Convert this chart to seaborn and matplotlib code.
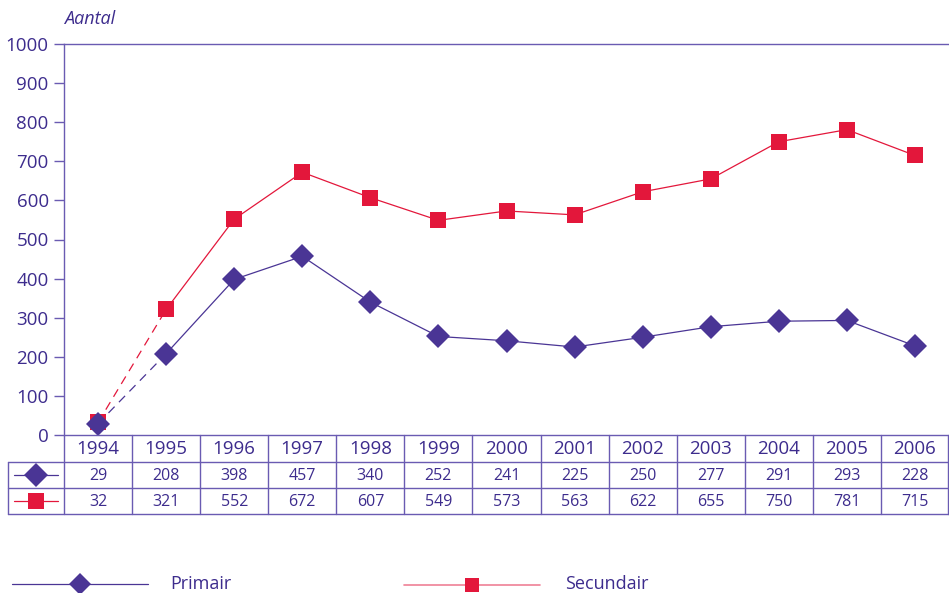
import matplotlib
matplotlib.use("Agg")
import matplotlib.pyplot as plt
import seaborn as sns
import pandas as pd
from matplotlib.lines import Line2D

years = ["1994", "1995", "1996", "1997", "1998", "1999", "2000", "2001",
         "2002", "2003", "2004", "2005", "2006"]
primair = [29, 208, 398, 457, 340, 252, 241, 225, 250, 277, 291, 293, 228]
secundair = [32, 321, 552, 672, 607, 549, 573, 563, 622, 655, 750, 781, 715]
series_names = ["Primair", "Secundair"]
yticks = [0, 100, 200, 300, 400, 500, 600, 700, 800, 900, 1000]

TXT = "#3d2c8d"
AX = "#6a5bb2"
PURPLE = "#4a3595"
RED = "#e3173b"

sns.set_theme(style="white")
plt.rcParams['font.family'] = ['Open Sans', 'DejaVu Sans']

W, H = 949, 593
fig = plt.figure(figsize=(W / 100, H / 100), dpi=100)
L, R, T, B = 64, 949, 44, 435
ax = fig.add_axes([L / W, 1 - B / H, (R - L) / W, (B - T) / H])

n = len(years)
xs = list(range(n))
df = pd.DataFrame({"x": xs * 2, "value": primair + secundair,
                   "serie": [series_names[0]] * n + [series_names[1]] * n})

styles = {"Primair": (PURPLE, "D", 12.5), "Secundair": (RED, "s", 11.5)}
for name in ["Secundair", "Primair"]:
    d = df[df.serie == name]
    col, mk, ms = styles[name]
    ax.plot(d.x.iloc[:2], d.value.iloc[:2], color=col, lw=0.9, ls=(0, (7, 5)))
    sns.lineplot(data=d.iloc[1:], x="x", y="value", ax=ax, color=col, lw=0.9,
                 legend=False)
    ax.plot(d.x, d.value, ls="none", marker=mk, markersize=ms, color=col,
            markeredgewidth=0, zorder=5 if name == "Primair" else 4)

ax.set_xlim(-0.5, n - 0.5)
ax.set_ylim(0, 1000)
ax.set_yticks(yticks)
ax.set_yticklabels([str(v) for v in yticks], color=TXT, fontsize=13.5)
ax.set_xticks([])
ax.set_xlabel("")
ax.set_ylabel("")
ax.tick_params(axis="y", length=7, width=1, color=AX, direction="out", pad=4, left=True)
for s in ["right", "bottom"]:
    ax.spines[s].set_visible(False)
ax.spines["left"].set_color(AX)
ax.spines["top"].set_color(AX)
ax.spines["left"].set_linewidth(1)
ax.spines["top"].set_linewidth(1)

fig.text(64 / W, 1 - 19 / H, "Aantal", ha="left", va="center", style="italic",
         color=TXT, fontsize=13)

def fx(px):
    return px / W

def fy(py):
    return 1 - py / H

colw = (R - L) / n
row_y = [435, 462, 488, 514]
lkw = dict(color=AX, lw=1)
fig.add_artist(Line2D([fx(L), fx(R)], [fy(435), fy(435)], **lkw))
for yy in row_y[1:]:
    fig.add_artist(Line2D([fx(8), fx(R)], [fy(yy), fy(yy)], **lkw))
for i in range(n + 1):
    xx = L + i * colw
    if i == n:
        xx = R - 1
    fig.add_artist(Line2D([fx(xx), fx(xx)], [fy(435), fy(514)], **lkw))
fig.add_artist(Line2D([fx(8), fx(8)], [fy(462), fy(514)], **lkw))

for i, yr in enumerate(years):
    cx = L + (i + 0.5) * colw
    fig.text(fx(cx), fy(449), yr, ha="center", va="center", color=TXT, fontsize=13.5)
    fig.text(fx(cx), fy(476), str(primair[i]), ha="center", va="center", color=TXT, fontsize=11.5)
    fig.text(fx(cx), fy(502), str(secundair[i]), ha="center", va="center", color=TXT, fontsize=11.5)

# row legend keys
fig.add_artist(Line2D([fx(14), fx(36), fx(58)], [fy(475)] * 3, color=PURPLE, lw=0.9,
                      marker="D", markersize=12.5, markevery=[1], markeredgewidth=0))
fig.add_artist(Line2D([fx(14), fx(36), fx(58)], [fy(501)] * 3, color=RED, lw=0.9,
                      marker="s", markersize=11, markevery=[1], markeredgewidth=0))

# bottom legend
fig.add_artist(Line2D([fx(12), fx(80), fx(148)], [fy(584)] * 3, color=PURPLE, lw=0.9,
                      marker="D", markersize=11.5, markevery=[1], markeredgewidth=0))
fig.text(fx(170), fy(584), "Primair", ha="left", va="center", color=TXT, fontsize=13)
fig.add_artist(Line2D([fx(404), fx(472), fx(540)], [fy(585)] * 3, color="#ef8096", lw=1.2,
                      marker="s", markersize=10, markevery=[1], markeredgewidth=0,
                      markerfacecolor=RED))
fig.text(fx(565), fy(584), "Secundair", ha="left", va="center", color=TXT, fontsize=13)

fig.savefig("out.png", dpi=100)
